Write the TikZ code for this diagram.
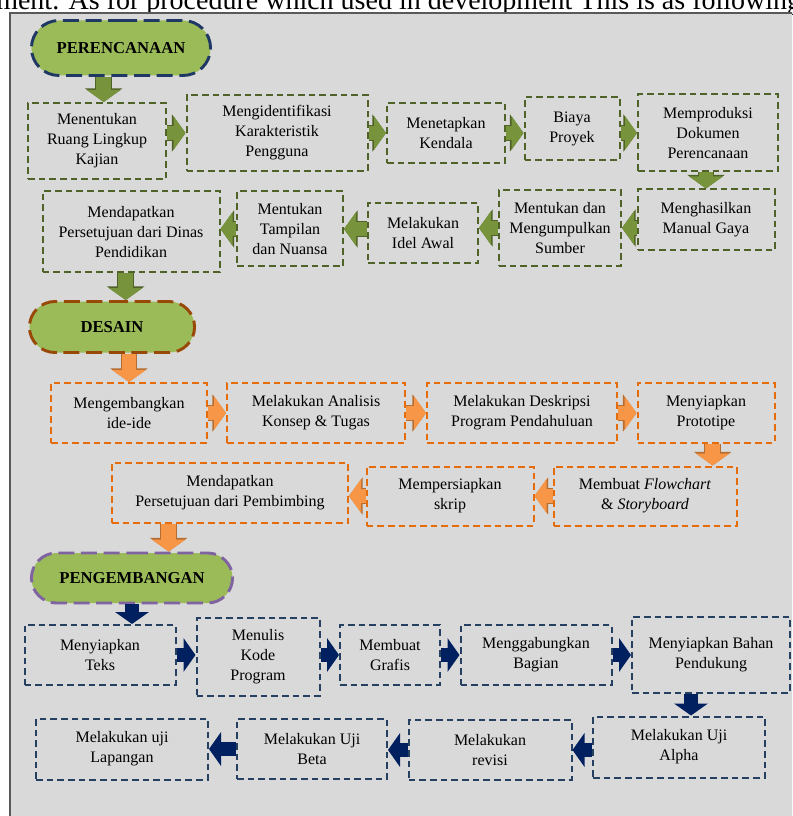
\documentclass[tikz,border=0pt]{standalone}
\usepackage{fontspec}
\setmainfont{Liberation Serif}
\usetikzlibrary{arrows.meta,shapes.misc}

\definecolor{panelgray}{HTML}{D9D9D9}
\definecolor{panelline}{HTML}{595959}
\definecolor{pillgreen}{HTML}{9BBB59}
\definecolor{gline}{HTML}{4F6228}
\definecolor{gfill}{HTML}{77933C}
\definecolor{oline}{HTML}{E46C0A}
\definecolor{ofill}{HTML}{F79646}
\definecolor{odark}{HTML}{B66D31}
\definecolor{bline}{HTML}{254061}
\definecolor{bfill}{HTML}{002060}
\definecolor{planline}{HTML}{1F3864}
\definecolor{desline}{HTML}{984807}
\definecolor{devline}{HTML}{8064A2}

\begin{document}
\begin{tikzpicture}[x=0.75pt, y=-0.75pt]

\tikzstyle{stepbox}=[line width=1.5pt, dash pattern=on 5pt off 3pt, align=center, inner sep=2pt, font=\fontsize{12}{15}\selectfont]
\tikzstyle{gbox}=[stepbox, draw=gline]
\tikzstyle{obox}=[stepbox, draw=oline]
\tikzstyle{bbox}=[stepbox, draw=bline]
\tikzstyle{pill}=[rounded rectangle, fill=pillgreen, line width=2.2pt, dash pattern=on 12pt off 5pt, font=\bfseries\fontsize{12.5}{14}\selectfont]
\tikzstyle{garrow}=[draw=gfill, line width=11pt, -{Triangle[length=9pt,width=25pt]}, preaction={draw=gline, line width=12.6pt, -{Triangle[length=10.2pt,width=27.5pt]}}]
\tikzstyle{oarrow}=[draw=ofill, line width=11pt, -{Triangle[length=9pt,width=25pt]}, preaction={draw=odark, line width=12.6pt, -{Triangle[length=10.2pt,width=27.5pt]}}]
\tikzstyle{barrow}=[draw=bfill, line width=11pt, -{Triangle[length=9pt,width=25pt]}]
\tikzset{sz/.style 2 args={minimum width=#1*0.75pt, minimum height=#2*0.75pt}}

\useasboundingbox (0,0) rectangle (792,816);
\clip (0,0) rectangle (792,816);

% Caption line cut off at the top
\node[anchor=base west, inner sep=0pt, font=\fontsize{21}{23}\selectfont] (intro) at (-4,10) {ment. As for procedure which used in development This is as following};

% Gray panel
\draw[draw=panelline, line width=1.5pt, fill=panelgray] (10,13) rectangle (805,830);

% Perencanaan
\node[pill, draw=planline, sz={188}{55}] (plan) at (121,48) {PERENCANAAN};

\node[gbox, sz={138}{76}] (b1) at (97,141) {Menentukan\\Ruang Lingkup\\Kajian};
\node[gbox, sz={181}{76}] (b2) at (277,133) {Mengidentifikasi\\Karakteristik\\Pengguna};
\node[gbox, sz={118}{60}] (b3) at (446,133) {Menetapkan\\Kendala};
\node[gbox, sz={95}{63}] (b4) at (572,129) {Biaya\\Proyek};
\node[gbox, sz={140}{77}] (b5) at (708,133) {Memproduksi\\Dokumen\\Perencanaan};

\node[gbox, sz={137}{61}] (b6) at (706,220) {Menghasilkan\\Manual Gaya};
\node[gbox, sz={122}{76}] (b7) at (560,228) {Mentukan dan\\Mengumpulkan\\Sumber};
\node[gbox, sz={110}{60}] (b8) at (423,233) {Melakukan\\Idel Awal};
\node[gbox, sz={106}{75}] (b9) at (290,229) {Mentukan\\Tampilan\\dan Nuansa};
\node[gbox, sz={177}{81}] (b10) at (131,232) {Mendapatkan\\Persetujuan dari Dinas\\Pendidikan};

\draw[garrow] ([xshift=5pt]plan.south -| b1.north) -- ([xshift=5pt]b1.north);
\draw[garrow] (b1.east |- b2.west) -- (b2.west);
\draw[garrow] (b2.east) -- (b2.east -| b3.west);
\draw[garrow] (b3.east) -- (b3.east -| b4.west);
\draw[garrow] (b5.west -| b4.east) -- (b5.west);
\draw[garrow] (b5.south -| b6.north) -- (b6.north);
\draw[garrow] (b7.east -| b6.west) -- (b7.east);
\draw[garrow] (b7.west) -- (b7.west -| b8.east);
\draw[garrow] (b9.east -| b8.west) -- (b9.east);
\draw[garrow] (b9.west) -- (b9.west -| b10.east);

% Desain
\node[pill, draw=desline, sz={174}{51}] (desain) at (112,327) {DESAIN};
\draw[garrow] ([xshift=-4pt]b10.south) -- ([xshift=-4pt]b10.south |- desain.north);

\node[obox, sz={156}{60}] (c1) at (129,413) {Mengembangkan\\ide-ide};
\node[obox, sz={178}{60}] (c2) at (316,413) {Melakukan Analisis\\Konsep \& Tugas};
\node[obox, sz={190}{60}] (c3) at (522,413) {Melakukan Deskripsi\\Program Pendahuluan};
\node[obox, sz={137}{60}] (c4) at (706,413) {Menyiapkan\\Prototipe};

\node[obox, sz={183}{59}] (c5) at (645,496) {Membuat \textit{Flowchart}\\\& \textit{Storyboard}};
\node[obox, sz={167}{59}] (c6) at (450,496) {Mempersiapkan\\skrip};
\node[obox, sz={236}{60}] (c7) at (230,493) {Mendapatkan\\Persetujuan dari Pembimbing};

\draw[oarrow] (desain.south -| c1.north) -- (c1.north);
\draw[oarrow] (c1.east) -- (c1.east -| c2.west);
\draw[oarrow] (c2.east) -- (c2.east -| c3.west);
\draw[oarrow] (c3.east) -- (c3.east -| c4.west);
\draw[oarrow] ([xshift=5pt]c4.south) -- ([xshift=5pt]c4.south |- c5.north);
\draw[oarrow] (c5.west) -- (c5.west -| c6.east);
\draw[oarrow] (c6.west) -- (c6.west -| c7.east);

% Pengembangan
\node[pill, draw=devline, sz={210}{50}] (dev) at (132,578) {PENGEMBANGAN};
\draw[oarrow] ([xshift=-46pt]c7.south) -- ([xshift=-46pt]c7.south |- dev.north);

\node[bbox, sz={151}{60}] (d1) at (100,655) {Menyiapkan\\Teks};
\node[bbox, sz={123}{78}] (d2) at (258,657) {Menulis\\Kode\\Program};
\node[bbox, sz={100}{60}] (d3) at (390,655) {Membuat\\Grafis};
\node[bbox, sz={151}{60}] (d4) at (536,655) {Menggabungkan\\Bagian};
\node[bbox, sz={158}{76}] (d5) at (711,655) {Menyiapkan Bahan\\Pendukung};

\node[bbox, sz={172}{61}] (d6) at (679,747) {Melakukan Uji\\Alpha};
\node[bbox, sz={163}{60}] (d7) at (490,750) {Melakukan\\revisi};
\node[bbox, sz={150}{60}] (d8) at (312,749) {Melakukan Uji\\Beta};
\node[bbox, sz={172}{61}] (d9) at (122,749) {Melakukan uji\\Lapangan};

\draw[barrow] (dev.south) -- (dev.south |- d1.north);
\draw[barrow] (d1.east) -- (d1.east -| d2.west);
\draw[barrow] (d2.east |- d3.east) -- (d3.west);
\draw[barrow] (d3.east) -- (d3.east -| d4.west);
\draw[barrow] (d4.east) -- (d4.east -| d5.west);
\draw[barrow] ([xshift=-15pt]d5.south) -- ([xshift=-15pt]d5.south |- d6.north);
\draw[barrow] (d6.west |- d7.east) -- (d7.east);
\draw[barrow] (d7.west) -- (d7.west -| d8.east);
\draw[barrow] (d8.west) -- (d8.west -| d9.east);

\end{tikzpicture}
\end{document}
